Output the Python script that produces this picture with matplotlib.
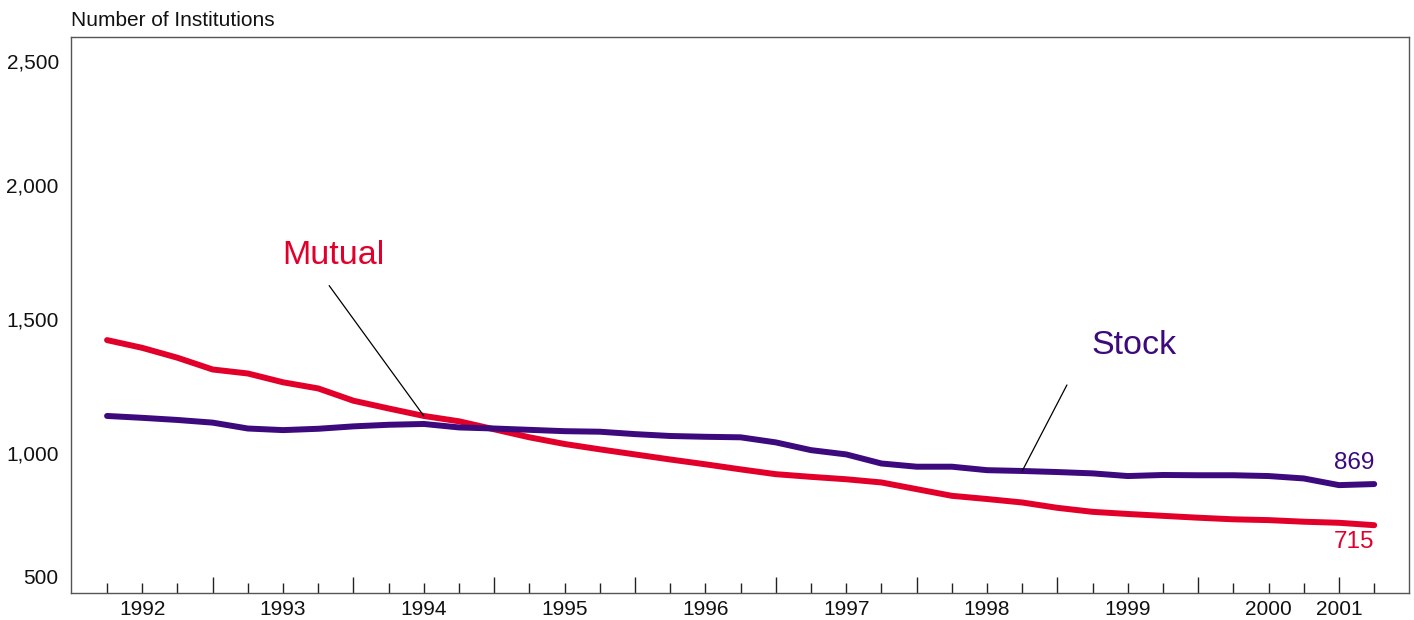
import matplotlib
matplotlib.use("Agg")
import matplotlib.pyplot as plt
import matplotlib.transforms as mtransforms
import numpy as np

plt.rcParams['font.family'] = ['Liberation Sans', 'DejaVu Sans']

# Quarterly data, 1992Q1 .. 2001Q1
mutual = [1408, 1379, 1342, 1298, 1283, 1250, 1227, 1181, 1152, 1124, 1104, 1074,
          1044, 1019, 999, 980, 961, 943, 924, 906, 896, 887, 875, 850, 825, 813,
          800, 780, 765, 757, 750, 743, 737, 734, 728, 724, 715]
stock = [1124, 1117, 1109, 1099, 1077, 1071, 1076, 1085, 1091, 1094, 1081, 1077,
         1072, 1067, 1065, 1056, 1049, 1046, 1044, 1025, 996, 980, 946, 934, 934,
         921, 918, 914, 909, 899, 903, 902, 902, 899, 890, 865, 869]
year_labels = ['1992', '1993', '1994', '1995', '1996', '1997', '1998', '1999', '2000', '2001']
year_label_pos = [1, 5, 9, 13, 17, 21, 25, 29, 33, 35]
yticks = [500, 1000, 1500, 2000, 2500]

RED = '#e2002b'
PURPLE = '#3c0a7c'

x = np.arange(len(mutual))

fig = plt.figure(figsize=(14.14, 6.2), dpi=100)
ax = fig.add_axes([0.0499, 0.0435, 0.9466, 0.8973])

ax.plot(x, mutual, color=RED, lw=4.3, solid_capstyle='round', solid_joinstyle='round', zorder=3)
ax.plot(x, stock, color=PURPLE, lw=4.3, solid_capstyle='round', solid_joinstyle='round', zorder=3)

ax.set_xlim(-1.037, 36.99)
ax.set_ylim(461, 2544)

# Y axis
ax.set_yticks(yticks)
ax.set_yticklabels([f'{v:,}' for v in yticks])
ax.tick_params(axis='y', length=0, pad=8.5, labelsize=15, labelcolor='#111111')
y_offsets_px = {500: 6.5, 1000: -3.5, 1500: -3.5, 2000: -3.0, 2500: -12.5}
for lab, v in zip(ax.get_yticklabels(), yticks):
    off = mtransforms.ScaledTranslation(0, y_offsets_px[v] / 100.0, fig.dpi_scale_trans)
    lab.set_transform(lab.get_transform() + off)

# X axis ticks
major_idx = list(range(3, len(mutual), 4))
minor_idx = [i for i in range(len(mutual)) if i not in major_idx]
ax.set_xticks(major_idx)
ax.set_xticks(minor_idx, minor=True)
ax.tick_params(axis='x', which='major', direction='in', length=11.7, width=1.0,
               color='#222222', labelbottom=False)
ax.tick_params(axis='x', which='minor', direction='in', length=7.4, width=1.0,
               color='#222222', labelbottom=False)

sec = ax.secondary_xaxis('bottom')
sec.set_xticks(year_label_pos)
sec.set_xticklabels(year_labels)
sec.tick_params(axis='x', length=0, pad=5.0, labelsize=15, labelcolor='#111111')
sec.spines['bottom'].set_visible(False)

for s in ax.spines.values():
    s.set_color('#555555')
    s.set_linewidth(1.0)

# Title
fig.text(0.0499, 1 - 20 / 620, 'Number of Institutions', ha='left', va='center',
         fontsize=15, color='#111111')

# Series labels and leaders
ax.text(6.42, 1726, 'Mutual', color=RED, fontsize=24.5, ha='center', va='center')
ax.annotate('', xy=(9, mutual[9]), xytext=(6.31, 1612),
            arrowprops=dict(arrowstyle='-', lw=0.9, color='black', shrinkA=0, shrinkB=0),
            zorder=4)
ax.text(29.18, 1386, 'Stock', color=PURPLE, fontsize=24.5, ha='center', va='center')
ax.annotate('', xy=(26, stock[26]), xytext=(27.27, 1240),
            arrowprops=dict(arrowstyle='-', lw=0.9, color='black', shrinkA=0, shrinkB=0),
            zorder=4)

# End value labels
ax.text(36.0, 946, f'{stock[-1]}', color=PURPLE, fontsize=17.5, ha='right', va='center')
ax.text(36.0, 653, f'{mutual[-1]}', color=RED, fontsize=17.5, ha='right', va='center')

fig.savefig('out.png', dpi=100)
